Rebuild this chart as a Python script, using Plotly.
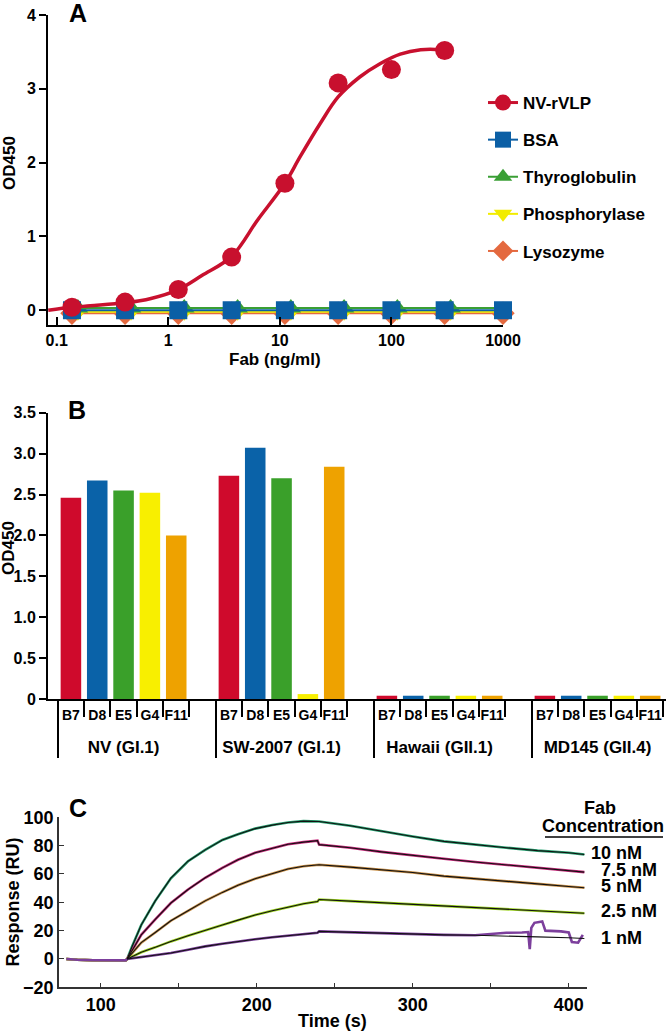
import plotly.graph_objects as go

# three-panel figure: ELISA titration (A), strain cross-reactivity (B), SPR sensorgrams (C)

W, H = 666, 1032
FONT = "Liberation Sans, Arial, Helvetica, sans-serif"

# ---------------- panel A data ----------------
fab_conc = [0.137, 0.41, 1.23, 3.7, 11.1, 33.3, 100, 300]
nv_od = [0.04, 0.11, 0.28, 0.72, 1.72, 3.08, 3.26, 3.52]
fit_conc = [0.084, 0.137, 0.2, 0.41, 0.7, 1.23, 2, 3.7, 6.3, 11.1, 15.2, 23,
            33.3, 52, 79, 120, 183, 276, 300]
fit_od = [0.0, 0.04, 0.06, 0.10, 0.16, 0.28, 0.47, 0.73, 1.22, 1.72, 2.08, 2.53,
          2.89, 3.16, 3.34, 3.47, 3.53, 3.53, 3.52]
ctrl_conc = [0.137, 0.41, 1.23, 3.7, 11.1, 33.3, 100, 300, 1000]
bsa_od = [0.0, 0.0, 0.0, 0.0, 0.0, 0.0, 0.0, 0.0, 0.0]
thyro_od = [0.03, 0.03, 0.03, 0.03, 0.03, 0.03, 0.03, 0.03, 0.03]
phos_od = [-0.02, -0.02, -0.02, -0.02, -0.02, -0.02, -0.02, -0.02, -0.02]
lyso_od = [-0.04, -0.04, -0.04, -0.04, -0.04, -0.04, -0.04, -0.04, -0.04]
a_ticks = [0.1, 1, 10, 100, 1000]
a_ticktext = ["0.1", "1", "10", "100", "1000"]

# ---------------- panel B data ----------------
strains = ["NV (GI.1)", "SW-2007 (GI.1)", "Hawaii (GII.1)", "MD145 (GII.4)"]
clones = ["B7", "D8", "E5", "G4", "F11"]
od_by_clone = {
    "B7": [2.46, 2.73, 0.04, 0.04],
    "D8": [2.67, 3.07, 0.04, 0.04],
    "E5": [2.55, 2.70, 0.04, 0.04],
    "G4": [2.52, 0.06, 0.04, 0.04],
    "F11": [2.00, 2.84, 0.04, 0.04],
}
b_ticks = [0, 0.5, 1.0, 1.5, 2.0, 2.5, 3.0, 3.5]
b_ticktext = ["0", "0.5", "1.0", "1.5", "2.0", "2.5", "3.0", "3.5"]

# ---------------- panel C data ----------------
t_base = [78, 85, 95, 105, 112, 116]
baseline_ru = [0.0, -0.6, -0.9, -1.0, -1.2, -1.0]
t_assoc = [117, 120, 126, 135, 145, 156, 167, 178, 188, 199, 210, 220, 230, 239]
t_dissoc = [240, 260, 280, 300, 320, 340, 360, 380, 400, 410]
conc_labels = ["10 nM", "7.5 nM", "5 nM", "2.5 nM", "1 nM"]
assoc_ru = {
    "10 nM": [0, 8.5, 24, 41, 57, 69, 77, 84, 88, 92, 94.5, 96.3, 97.3, 97.5],
    "7.5 nM": [0, 6, 17, 28, 39.5, 49, 57.3, 64.3, 70, 75, 78.4, 81, 82.5, 83.5],
    "5 nM": [0, 4, 11.5, 18.7, 27, 34, 41, 47, 52, 56.6, 60.4, 63.5, 65.5, 66.7],
    "2.5 nM": [0, 1.5, 4.7, 8.2, 12.4, 16.4, 20.4, 24, 27.4, 31, 34, 36.7, 39, 40.5],
    "1 nM": [0, 0.4, 1.2, 2.8, 4.2, 6.5, 8.9, 10.7, 12.4, 13.9, 15.3, 16.5, 17.6, 18.5],
}
dissoc_ru = {
    "10 nM": [97, 94, 90, 86.5, 83, 80.5, 78.5, 76.5, 75, 73.7],
    "7.5 nM": [80.7, 78.5, 75.6, 73, 70.7, 68.5, 66.3, 64.3, 62.3, 61.3],
    "5 nM": [66.5, 64.8, 63, 61, 58.5, 56.5, 54.7, 53, 51.2, 50.3],
    "2.5 nM": [42, 40.8, 39.6, 38.5, 37.3, 36.1, 35.1, 34, 32.9, 32.3],
    "1 nM": [19.5, 18.8, 18.1, 17.6, 17, 16.7, 16.4, 15.6, 15, 14.5],
}
# the 1 nM recording has a disturbance late in dissociation
t_dissoc_1nm = [240, 260, 280, 300, 320, 340, 360, 370, 374, 375, 376, 378, 383,
                385, 395, 400, 402, 406, 409]
dissoc_1nm_raw = [19.5, 18.8, 18.1, 17.6, 17, 16.7, 18.5, 18.7, 19, 7, 22, 25.5,
                  26.5, 20, 19.5, 18.7, 12, 11.5, 17]
c_yticks = [-20, 0, 20, 40, 60, 80, 100]
c_yticktext = ["\u221220", "0", "20", "40", "60", "80", "100"]

# ---------------- styles ----------------
col_a = {"NV-rVLP": "#c8102e", "BSA": "#0b5fa5", "Thyroglobulin": "#3a9f35",
         "Phosphorylase": "#f2ec00", "Lysozyme": "#e4693f"}
col_b = {"B7": "#cf0a2c", "D8": "#0a62a8", "E5": "#3aa02a", "G4": "#f8ef00", "F11": "#eea200"}
col_c = {"10 nM": "#26a070", "7.5 nM": "#c82a7c", "5 nM": "#c99048",
         "2.5 nM": "#9bd21e", "1 nM": "#7c3f9c"}


def px(x):
    return x / W


def py(y):
    return 1 - y / H


fig = go.Figure()

# ---- panel A traces (drawn back to front) ----
ctrl = [
    ("Lysozyme", lyso_od, "diamond", 1.0, 5),
    ("Phosphorylase", phos_od, "triangle-down", 1.13, 4),
    ("Thyroglobulin", thyro_od, "triangle-up", 1.13, 3),
    ("BSA", bsa_od, "square", 1.0, 2),
]
for name, vals, sym, shift, rank in ctrl:
    fig.add_trace(go.Scatter(
        x=[c * shift for c in ctrl_conc], y=vals, name=name, mode="lines+markers",
        line=dict(color=col_a[name], width=2),
        marker=dict(symbol=sym, size=18, color=col_a[name]),
        legendgroup=name, legendrank=rank, cliponaxis=False,
    ))

fig.add_trace(go.Scatter(
    x=fit_conc, y=fit_od, mode="lines", line=dict(color=col_a["NV-rVLP"], width=3.5, shape="spline"),
    showlegend=False, cliponaxis=False,
))
fig.add_trace(go.Scatter(
    x=fab_conc, y=nv_od, mode="markers", marker=dict(size=19, color=col_a["NV-rVLP"]),
    showlegend=False, cliponaxis=False,
))
fig.add_trace(go.Scatter(
    x=[None], y=[None], name="NV-rVLP", mode="lines+markers",
    line=dict(color=col_a["NV-rVLP"], width=3), marker=dict(size=18, color=col_a["NV-rVLP"]),
    legendgroup="NV-rVLP", legendrank=1,
))

# ---- panel B bars ----
slot = len(clones) + 1
for j, clone in enumerate(clones):
    fig.add_trace(go.Bar(
        x=[g * slot + j for g in range(len(strains))], y=od_by_clone[clone],
        width=0.78, marker=dict(color=col_b[clone], line=dict(width=0)),
        xaxis="x2", yaxis="y2", showlegend=False,
    ))

short_seps = [g * slot + j + 0.5 for g in range(len(strains)) for j in range(len(clones))]
long_seps = [g * slot - 0.5 for g in range(len(strains))]
bar_pos = [g * slot + j for g in range(len(strains)) for j in range(len(clones))]
group_pos = [g * slot + (len(clones) - 1) / 2 for g in range(len(strains))]

# empty traces so the overlaid label / separator axes get drawn
for ax in ["x3", "x4", "x5"]:
    fig.add_trace(go.Scatter(x=[None], y=[None], xaxis=ax, yaxis="y2",
                             showlegend=False, hoverinfo="skip"))

# ---- panel C sensorgrams ----
for lab in conc_labels:
    if lab == "1 nM":
        tx = t_base + t_assoc + t_dissoc_1nm
        ty = baseline_ru + assoc_ru[lab] + dissoc_1nm_raw
    else:
        tx = t_base + t_assoc + t_dissoc
        ty = baseline_ru + assoc_ru[lab] + dissoc_ru[lab]
    fig.add_trace(go.Scatter(
        x=tx, y=ty, mode="lines", line=dict(color=col_c[lab], width=2.6),
        xaxis="x6", yaxis="y3", showlegend=False,
    ))
for lab in conc_labels:
    fig.add_trace(go.Scatter(
        x=t_assoc + t_dissoc, y=assoc_ru[lab] + dissoc_ru[lab], mode="lines",
        line=dict(color="#111111", width=1.1), xaxis="x6", yaxis="y3", showlegend=False,
    ))

# ---------------- axes ----------------
bold = dict(family=FONT, size=16, color="black", weight="bold")
axis_common = dict(showgrid=False, zeroline=False, showline=True, linecolor="black",
                   linewidth=2, tickcolor="black", tickwidth=2, tickfont=bold,
                   automargin=False)
overlay_common = dict(overlaying="x2", anchor="y2", range=[-0.87, 22.6], showgrid=False,
                      zeroline=False, showline=False, automargin=False, tickangle=0)

fig.update_layout(
    xaxis=dict(axis_common, type="log", range=[-1.078, 3.0], domain=[px(48), px(503)],
               anchor="y", ticks="inside", ticklen=8, tickvals=a_ticks, ticktext=a_ticktext),
    yaxis=dict(axis_common, range=[-0.2, 4], domain=[py(325), py(15)], anchor="x",
               ticks="outside", ticklen=7, tickvals=[0, 1, 2, 3, 4]),
    xaxis2=dict(axis_common, range=[-0.87, 22.6], domain=[px(48), 1.0], anchor="y2",
                ticks="outside", ticklen=16, tickwidth=1.5, tickvals=short_seps,
                showticklabels=False),
    xaxis3=dict(overlay_common, ticks="outside", ticklen=58, tickwidth=1.5,
                tickcolor="black", tickvals=long_seps, showticklabels=False),
    xaxis4=dict(overlay_common, ticks="", tickvals=bar_pos,
                ticktext=clones * len(strains), ticklabelstandoff=6,
                tickfont=dict(family=FONT, size=14, color="black", weight="bold")),
    xaxis5=dict(overlay_common, ticks="", tickvals=group_pos,
                ticktext=strains, ticklabelstandoff=36,
                tickfont=dict(family=FONT, size=17, color="black", weight="bold")),
    yaxis2=dict(axis_common, range=[0, 3.5], domain=[py(699), py(412.7)], anchor="x2",
                ticks="outside", ticklen=7, tickvals=b_ticks, ticktext=b_ticktext),
    xaxis6=dict(axis_common, range=[73.3, 411.5], domain=[px(59), px(586.7)], anchor="y3",
                linecolor="#333333", linewidth=1.5, ticks="inside", ticklen=5, tickwidth=1.2,
                tickcolor="#333333", tickvals=[100, 200, 300, 400],
                minor=dict(tickvals=[150, 250, 350], ticks="inside", ticklen=5, tickcolor="#333333"),
                tickfont=dict(bold, size=18)),
    yaxis3=dict(axis_common, range=[-20, 100], domain=[py(987.3), py(817.3)], anchor="x6",
                linecolor="#333333", linewidth=1.5, ticks="inside", ticklen=5, tickwidth=1.2,
                tickcolor="#333333", tickvals=c_yticks, ticktext=c_yticktext,
                tickfont=dict(bold, size=18)),
)


def label(text, x, y, size=17, angle=0, anchor="center"):
    fig.add_annotation(text=text, x=px(x), y=py(y), xref="paper", yref="paper",
                       showarrow=False, textangle=angle, xanchor=anchor, yanchor="middle",
                       font=dict(family=FONT, size=size, color="black", weight="bold"))


label("A", 77.5, 13, size=25)
label("B", 77, 410, size=25)
label("C", 77.5, 808, size=25)
label("OD450", 9, 163, angle=-90)
label("Fab (ng/ml)", 275, 360)
label("OD450", 8, 548, angle=-90)
label("Response (RU)", 12.5, 902, size=18, angle=-90)
label("Time (s)", 332, 1021, size=18)
label("Fab", 600, 808, size=18)
label("Concentration", 603, 826, size=18)
fig.add_shape(type="line", xref="paper", yref="paper", x0=px(545), x1=px(663),
              y0=py(837), y1=py(837), line=dict(color="black", width=1.5))

for lab in conc_labels:
    fig.add_annotation(text=lab, x=t_dissoc[-1], y=dissoc_ru[lab][-1], xref="x6", yref="y3",
                       showarrow=False, xanchor="left", yanchor="middle",
                       xshift=5 if lab == "10 nM" else 15, yshift=0 if lab == "1 nM" else 2,
                       font=dict(family=FONT, size=18, color="black", weight="bold"))

fig.update_layout(
    template="none",
    width=W, height=H, margin=dict(l=0, r=0, t=0, b=0, autoexpand=False),
    paper_bgcolor="white", plot_bgcolor="white", barmode="overlay",
    legend=dict(x=px(483), y=py(85), xanchor="left", yanchor="top", traceorder="grouped",
                tracegroupgap=12, bgcolor="rgba(0,0,0,0)",
                font=dict(family=FONT, size=17, color="black", weight="bold")),
)

# the page body has a default 8px margin; drop it so the figure sits at the window corner
fig.write_html("out.html", config={"displayModeBar": False},
               post_script="document.body.style.margin = '0';")
